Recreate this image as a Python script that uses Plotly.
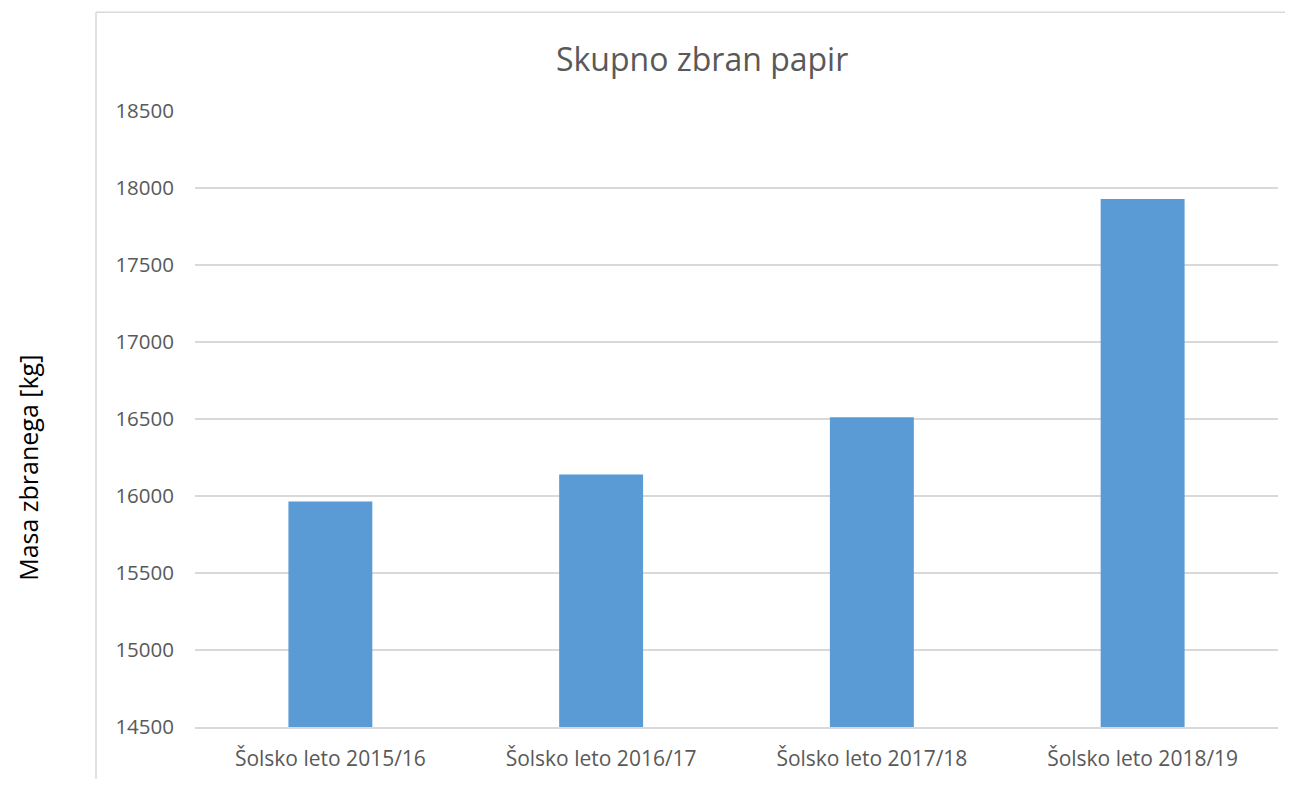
import plotly.graph_objects as go

categories = ["Šolsko leto 2015/16", "Šolsko leto 2016/17", "Šolsko leto 2017/18", "Šolsko leto 2018/19"]
values = [15965, 16140, 16512, 17928]
y_ticks = [14500, 15000, 15500, 16000, 16500, 17000, 17500, 18000, 18500]
y_tick_text = [str(v) for v in y_ticks]

OFF = 8  # page body margin
W, H = 1293 - 2 * OFF, 787 - 2 * OFF
L, T = 195 - OFF, 111 - OFF
R = W - (1278 - OFF)
B = H - (729 - OFF)
pw, ph = W - L - R, H - T - B

def px_x(p):
    return (p - OFF - L) / pw

def px_y(p):
    return (H - B - (p - OFF)) / ph

fig = go.Figure(go.Bar(
    x=categories, y=values, marker=dict(color="#5B9BD5", line=dict(width=0)),
    width=0.31,
))

font_family = "'Open Sans', sans-serif"
fig.update_layout(
    width=W, height=H,
    margin=dict(l=L, r=R, t=T, b=B, pad=0),
    paper_bgcolor="white", plot_bgcolor="white",
    showlegend=False,
    font=dict(family=font_family, color="#595959", size=21),
    xaxis=dict(showgrid=False, showline=True, linecolor="#D9D9D9", linewidth=1.5,
               ticks="", tickfont=dict(size=21, color="#595959"), ticklabelstandoff=12),
    yaxis=dict(range=[14500, 18500], tickvals=y_ticks, ticktext=y_tick_text,
               showgrid=True, gridcolor="#D9D9D9",
               gridwidth=1.5, zeroline=False, showline=False, ticks="",
               tickfont=dict(size=20.5, color="#595959"), ticklabelstandoff=20),
    annotations=[
        dict(text="Skupno zbran papir", x=px_x(702), y=px_y(58), xref="paper", yref="paper",
             showarrow=False, font=dict(size=32, color="#595959", family=font_family),
             xanchor="center", yanchor="middle"),
        dict(text="Masa zbranega [kg]", x=px_x(9), y=px_y(469), xref="paper", yref="paper",
             showarrow=False, textangle=-90, font=dict(size=25, color="#000000", family=font_family),
             xanchor="left", yanchor="middle"),
    ],
    shapes=[
        dict(type="line", xref="paper", yref="paper", x0=px_x(96), x1=px_x(96),
             y0=px_y(12), y1=px_y(800), line=dict(color="#D9D9D9", width=1.5)),
        dict(type="line", xref="paper", yref="paper", x0=px_x(96), x1=px_x(1300),
             y0=px_y(12), y1=px_y(12), line=dict(color="#D9D9D9", width=1.5)),
    ],
)

fig.write_html("out.html")
